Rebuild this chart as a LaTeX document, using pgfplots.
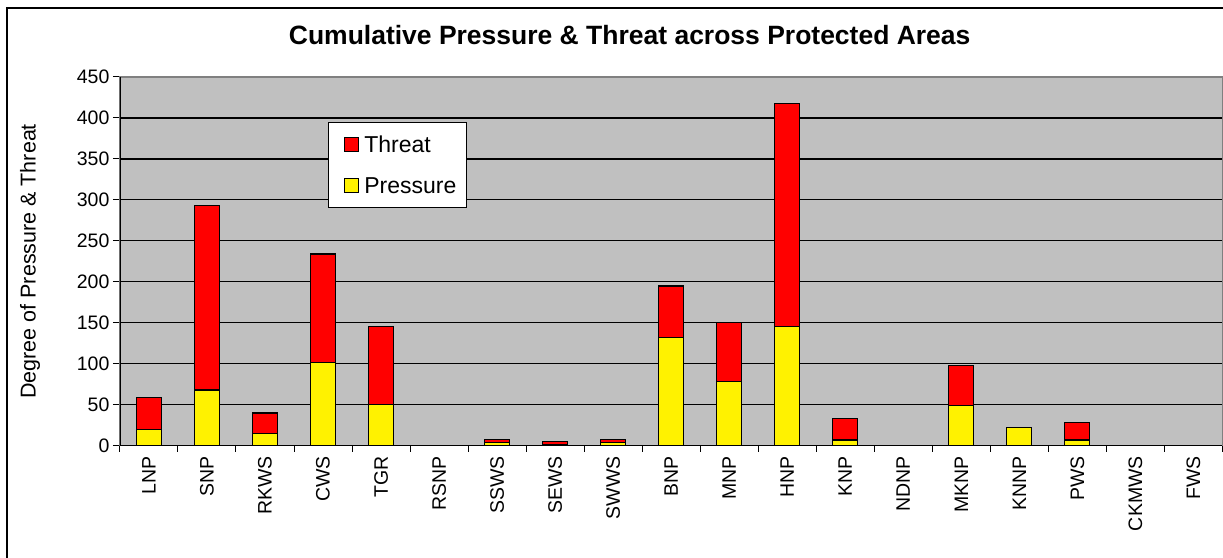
\documentclass[border=0pt]{standalone}
\usepackage{fontspec}
\setmainfont{Liberation Sans}
\usepackage{pgfplots}
\usepackage{pgfplotstable}
\pgfplotsset{compat=1.18}
\definecolor{plotgray}{RGB}{192,192,192}
\definecolor{edgegray}{RGB}{128,128,128}

% idx  name  pressure  threat
\pgfplotstableread{
idx name  P   T
0  LNP    20  39
1  SNP    68  225
2  RKWS   15  25
3  CWS    102 132
4  TGR    50  96
5  RSNP   0   0
6  SSWS   4   4
7  SEWS   2   3
8  SWWS   4   4
9  BNP    132 63
10 MNP    78  72
11 HNP    146 272
12 KNP    7   26
13 NDNP   0   0
14 MKNP   49  49
15 KNNP   22  0
16 PWS    7   21
17 CKMWS  0   0
18 FWS    0   0
}\areas

\begin{document}
\begin{tikzpicture}
\begin{axis}[
    name=ax,
    scale only axis,
    width=1103pt, height=369pt,
    ybar stacked,
    bar width=25pt,
    xmin=-0.5, xmax=18.5,
    ymin=0, ymax=450,
    ytick={0,50,...,450},
    xtick={0,...,18},
    xticklabels={LNP,SNP,RKWS,CWS,TGR,RSNP,SSWS,SEWS,SWWS,BNP,MNP,HNP,KNP,NDNP,MKNP,KNNP,PWS,CKMWS,FWS},
    minor xtick={-0.5,0.5,...,18.5},
    major x tick style={draw=none},
    minor tick length=6pt,
    major tick length=7pt,
    tick align=outside,
    tick style={black, line width=1pt},
    xtick pos=bottom, ytick pos=left,
    ymajorgrids=true,
    grid style={black, line width=1.2pt},
    axis background/.style={fill=plotgray},
    axis line style={edgegray, line width=1.2pt},
    /pgf/number format/assume math mode=true,
    ticklabel style={font=\fontsize{19.5}{23}\selectfont},
    xticklabel style={rotate=90, anchor=east},
    ylabel={Degree of Pressure \& Threat},
    ylabel style={at={(axis description cs:-0.0816,0.5)}, anchor=center,
                  font=\fontsize{21.5}{25}\selectfont},
    legend style={at={(0.1886,0.878)}, anchor=north west, draw=black,
                  line width=1pt, fill=white,
                  font=\fontsize{23}{27}\selectfont,
                  inner xsep=8pt, inner ysep=11pt, row sep=20pt,
                  nodes={inner sep=2pt}},
    legend cell align=left,
    reverse legend,
    legend image code/.code={\path[draw=none, fill=none] (0pt,0pt) -- (26pt,0pt);
        \draw[#1, line width=1pt] (8pt,-6.5pt) rectangle (22pt,7.5pt);},
]
\addplot[fill=yellow, draw=black, line width=1.2pt] table[x=idx, y=P] {\areas};
\addplot[fill=red, draw=black, line width=1.2pt] table[x=idx, y=T] {\areas};
\legend{Pressure, Threat}
\draw[black, line width=1.5pt] (rel axis cs:0,0) -- (rel axis cs:0,1);
\draw[black, line width=1.5pt] (rel axis cs:0,0) -- (rel axis cs:1,0);
\end{axis}
\node[font=\bfseries\fontsize{26.5}{31}\selectfont] at ([xshift=510pt,yshift=42pt]ax.north west)
    {Cumulative Pressure \& Threat across Protected Areas};
\useasboundingbox ([xshift=-120pt,yshift=-112pt]ax.south west) rectangle ([yshift=77pt]ax.north east);
\draw[black, line width=1.5pt] ([xshift=-113pt,yshift=-120pt]ax.south west) -- ([xshift=-113pt,yshift=69pt]ax.north west) -- ([xshift=20pt,yshift=69pt]ax.north east);
\end{tikzpicture}
\end{document}
